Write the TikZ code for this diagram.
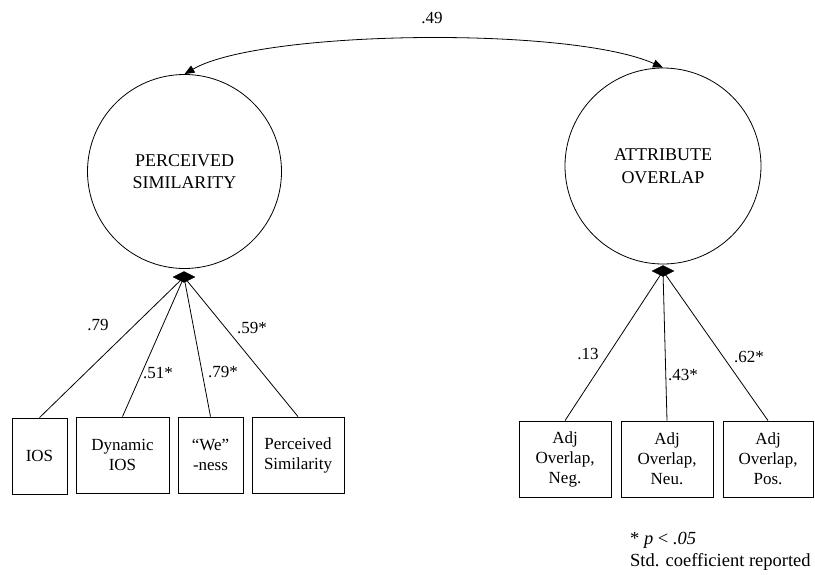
\documentclass[tikz,border=0pt]{standalone}
\usepackage{fontspec}
\setmainfont{Liberation Serif}
\usetikzlibrary{arrows.meta,shapes.geometric}
\begin{document}
\begin{tikzpicture}[x=1pt,y=-1pt,
  latent/.style={circle,draw,line width=0.8pt,minimum size=#1,inner sep=0pt,align=center,
    font=\fontsize{18}{22.5}\selectfont},
  obs/.style={draw,line width=0.8pt,inner sep=0pt,align=center,minimum height=76pt,
    font=\fontsize{17}{20}\selectfont},
  conv/.style={diamond,fill=black,draw=black,inner sep=0pt,minimum width=22pt,minimum height=11pt},
  coef/.style={font=\fontsize{17}{20}\selectfont,inner sep=0pt},
  link/.style={line width=0.8pt},
  corr/.style={line width=0.8pt,{Triangle[length=10pt,width=8pt]}-{Triangle[length=10pt,width=8pt]}}]
\useasboundingbox (0,0) rectangle (815,574);
% latent variables
\node[latent=194pt] (ps) at (184.5,171.5) {PERCEIVED\\SIMILARITY};
\node[latent=196pt] (ao) at (663,166) {ATTRIBUTE\\OVERLAP};
% convergence points
\node[conv] (psd) at (184,277) {};
\node[conv] (aod) at (663,271) {};
% observed boxes, left
\node[obs,minimum width=55pt] (ios) at (39.5,456) {IOS};
\node[obs,minimum width=93pt] (dyn) at (122.5,455) {Dynamic\\IOS};
\node[obs,minimum width=65pt] (we) at (210.5,455) {``We''\\-ness};
\node[obs,minimum width=92pt] (per) at (298,455) {Perceived\\Similarity};
% observed boxes, right
\node[obs,minimum width=92pt] (neg) at (565,459) {Adj\\Overlap,\\Neg.};
\node[obs,minimum width=92pt] (neu) at (667,459) {Adj\\Overlap,\\Neu.};
\node[obs,minimum width=90pt] (pos) at (768,459) {Adj\\Overlap,\\Pos.};
% loadings
\draw[link] (ios.north) -- (psd.center);
\draw[link] (dyn.north) -- (psd.center);
\draw[link] (we.north) -- (psd.center);
\draw[link] (per.north) -- (psd.center);
\draw[link] (neg.north) -- (aod.center);
\draw[link] (neu.north) -- (aod.center);
\draw[link] (pos.north) -- (aod.center);
% correlation
\draw[corr] (ps.north) .. controls (260,30) and (570,26) .. (ao.north);
\node[coef] (r) at (432,18) {.49};
% coefficient labels
\node[coef] (l1) at (98,325) {.79};
\node[coef] (l2) at (158,373) {.51*};
\node[coef] (l3) at (223,372) {.79*};
\node[coef] (l4) at (252,328) {.59*};
\node[coef] (l5) at (588,354) {.13};
\node[coef] (l6) at (683,375) {.43*};
\node[coef] (l7) at (749,357) {.62*};
% footnote
\node[anchor=west,inner sep=0pt,font=\fontsize{18.5}{22}\selectfont] (fn1) at (630,540) {* \textit{p} < \textit{.05}};
\node[anchor=west,inner sep=0pt,font=\fontsize{18.5}{22}\selectfont] (fn2) at (630,562) {Std. coefficient reported};
\end{tikzpicture}
\end{document}
